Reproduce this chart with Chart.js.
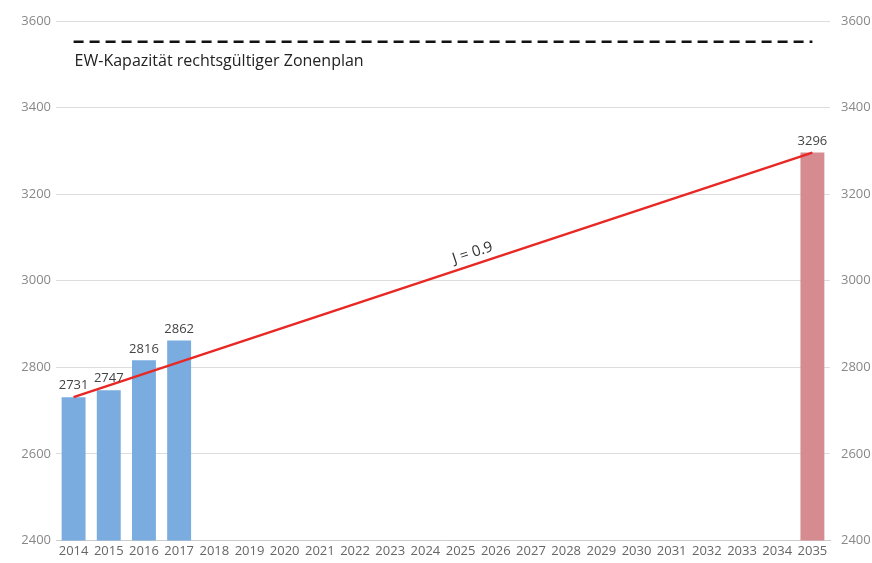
<!DOCTYPE html>
<html>
<head>
<meta charset="utf-8">
<script src="https://cdn.jsdelivr.net/npm/chart.js@4.4.1/dist/chart.umd.min.js"></script>
<style>
  html, body { margin: 0; padding: 0; background: #fff; }
  #wrap { width: 872px; height: 563px; }
</style>
</head>
<body>
<div id="wrap"><canvas id="chart"></canvas></div>
<script>
// years on the x axis
const years = ['2014','2015','2016','2017','2018','2019','2020','2021','2022','2023','2024',
  '2025','2026','2027','2028','2029','2030','2031','2032','2033','2034','2035']

// inhabitants (EW) - measured years and 2035 forecast
const ewValues = [2731, 2747, 2816, 2862, null, null, null, null, null, null, null,
  null, null, null, null, null, null, null, null, null, null, 3296]

// growth line endpoints (2014 -> 2035)
const trendValues = [2731, null, null, null, null, null, null, null, null, null, null,
  null, null, null, null, null, null, null, null, null, null, 3296]

// capacity of the legal zoning plan
const capacityValues = [3552, null, null, null, null, null, null, null, null, null, null,
  null, null, null, null, null, null, null, null, null, null, 3552]

const capacityLabel = 'EW-Kapazität rechtsgültiger Zonenplan'
const trendLabel = 'J = 0.9'

const blue = 'rgb(122, 172, 224)'
const pink = 'rgb(214, 139, 144)'
const barColors = years.map(y => y === '2035' ? pink : blue)

const fontFamily = "'Open Sans', 'DejaVu Sans', sans-serif"

// value labels above the bars + text annotations
const annotate = {
  id: 'annotate',
  afterDatasetsDraw(chart) {
    const ctx = chart.ctx
    const bars = chart.getDatasetMeta(0)
    ctx.save()
    ctx.fillStyle = '#444'
    ctx.font = `13px ${fontFamily}`
    ctx.textAlign = 'center'
    ctx.textBaseline = 'bottom'
    bars.data.forEach((bar, i) => {
      if (ewValues[i] == null) return
      ctx.fillText(ewValues[i], bar.x, bar.y - 5)
    })

    // capacity caption
    const cap = chart.getDatasetMeta(2).data[0]
    ctx.fillStyle = '#222'
    ctx.font = `16px ${fontFamily}`
    ctx.textAlign = 'left'
    ctx.textBaseline = 'middle'
    ctx.fillText(capacityLabel, cap.x + 1, cap.y + 20)

    // rotated growth label
    const t = chart.getDatasetMeta(1).data
    const p0 = t[0], p1 = t[t.length - 1]
    const angle = Math.atan2(p1.y - p0.y, p1.x - p0.x)
    const f = 0.545
    const mx = p0.x + (p1.x - p0.x) * f
    const my = p0.y + (p1.y - p0.y) * f
    ctx.translate(mx, my)
    ctx.rotate(angle)
    ctx.fillStyle = '#333'
    ctx.font = `15px ${fontFamily}`
    ctx.textAlign = 'center'
    ctx.textBaseline = 'bottom'
    ctx.fillText(trendLabel, 0, -4)
    ctx.restore()
  }
}

const data = {
  labels: years,
  datasets: [
    {
      type: 'bar',
      label: 'EW',
      data: ewValues,
      backgroundColor: barColors,
      barPercentage: 0.68,
      categoryPercentage: 1,
      order: 3
    },
    {
      type: 'line',
      label: 'Wachstum',
      data: trendValues,
      borderColor: 'rgb(232, 40, 36)',
      borderWidth: 2.5,
      pointRadius: 0,
      spanGaps: true,
      order: 1
    },
    {
      type: 'line',
      label: 'Kapazität',
      data: capacityValues,
      borderColor: '#111',
      borderWidth: 2.5,
      borderDash: [10, 6],
      pointRadius: 0,
      spanGaps: true,
      order: 2
    }
  ]
}

const tickFont = { family: fontFamily, size: 13 }
const plain = v => String(v)

const config = {
  type: 'bar',
  data,
  options: {
    responsive: true,
    maintainAspectRatio: false,
    animation: false,
    layout: { padding: { top: 21, bottom: 1, left: 0, right: 0 } },
    plugins: {
      legend: { display: false },
      tooltip: { enabled: false }
    },
    scales: {
      x: {
        grid: { display: false, drawTicks: false },
        border: { color: '#ccc' },
        ticks: { color: '#666', font: tickFont, maxRotation: 0, autoSkip: false, padding: 3 }
      },
      y: {
        position: 'left',
        min: 2400,
        max: 3600,
        grid: { color: '#ddd', drawTicks: false },
        border: { display: false },
        ticks: { stepSize: 200, color: '#888', font: tickFont, padding: 5, callback: plain },
        afterFit(scale) { scale.width = 56 }
      },
      y2: {
        position: 'right',
        min: 2400,
        max: 3600,
        grid: { display: false },
        border: { display: false },
        ticks: { stepSize: 200, color: '#888', font: tickFont, padding: 3, callback: plain },
        afterFit(scale) { scale.width = 42 }
      }
    }
  },
  plugins: [annotate]
}

new Chart(document.getElementById('chart'), config)
</script>
</body>
</html>
